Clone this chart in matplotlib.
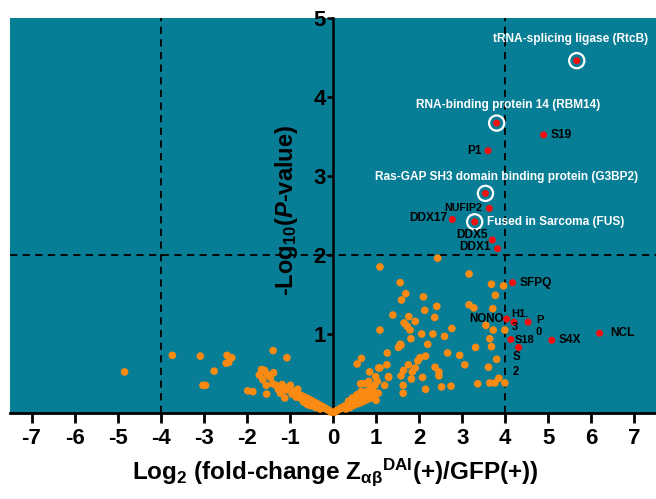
import matplotlib
matplotlib.use("Agg")
import matplotlib.pyplot as plt

plt.rcParams['font.family'] = ['Liberation Sans', 'DejaVu Sans']
plt.rcParams['mathtext.fontset'] = 'custom'
plt.rcParams['mathtext.rm'] = 'Liberation Sans:bold'
plt.rcParams['mathtext.it'] = 'Liberation Sans:bold:italic'
plt.rcParams['mathtext.bf'] = 'Liberation Sans:bold'
plt.rcParams['mathtext.default'] = 'rm'

# ---------------- data ----------------
# non-significant proteins (orange)
orange_x = [
    1.09, 2.43, 3.16, 3.96, 3.68, 3.77, 1.56, 1.69, 1.59, 2.10, 2.13, 2.41, 3.16, 3.27, 3.71,
    1.39, 1.76, 1.91, 2.36, 1.65, 1.72, 1.79, 1.09, 2.76, 3.55, 3.72, 3.99, 2.06, 2.32, 2.59,
    1.81, 3.64, 2.20, 1.56, 1.52, 3.31, 3.68, 1.26, 2.66, 2.94, 2.02, 2.15, 1.97, 3.80, 0.66,
    0.56, 1.75, 3.06, 1.09, 1.25, 0.85, 2.37, 2.46, 3.61, 1.91, 1.64, 1.84, 1.58, 2.08, 2.46,
    1.82, 1.29, 1.03, 1.20, 1.63, 2.15, 2.52, 2.74, 3.36, 3.64, 3.76, 3.85, 3.99, 1.63, 1.00,
    0.77, 0.87, 0.64, 0.83, 1.58, 0.99, 0.97, 0.72, 1.29, 1.06,
    # right branch of the V near zero
    0.04, 0.08, 0.12, 0.15, 0.18, 0.22, 0.25, 0.28, 0.32, 0.35, 0.38, 0.42, 0.45, 0.48, 0.52,
    0.55, 0.58, 0.62, 0.66, 0.70, 0.74, 0.78, 0.82, 0.86, 0.90, 0.94, 0.30, 0.40, 0.50, 0.60,
    0.68, 0.76, 0.84, 0.92, 0.45, 0.55, 0.65, 0.36, 0.95, 1.05,
    # left side
    -4.84, -3.73, -3.08, -2.76, -3.02, -2.96, -2.46, -2.35, -2.42, -2.48, -1.39, -1.07, -1.98,
    -1.86, -1.59, -1.71, -1.53, -1.38, -1.63, -1.55, -1.40, -1.32, -1.15, -0.99, -1.54, -1.09,
    -1.12, -0.82, -0.79, -1.66, -1.45, -1.27, -1.22, -1.18, -0.92, -0.88,
    # left branch of the V near zero
    -0.04, -0.08, -0.12, -0.15, -0.18, -0.22, -0.25, -0.28, -0.32, -0.35, -0.38, -0.42, -0.45,
    -0.48, -0.52, -0.55, -0.58, -0.62, -0.66, -0.70, -0.74, -0.78, -0.30, -0.40, -0.50, -0.60,
    -0.68, -0.72, -0.85, -0.95, -0.64, -0.56,
]
orange_y = [
    1.85, 1.96, 1.76, 1.61, 1.63, 1.49, 1.65, 1.51, 1.43, 1.47, 1.30, 1.35, 1.37, 1.33, 1.32,
    1.24, 1.22, 1.16, 1.21, 1.14, 1.10, 1.05, 1.05, 1.07, 1.11, 1.05, 1.05, 1.00, 1.00, 0.97,
    0.94, 0.94, 0.87, 0.87, 0.83, 0.83, 0.84, 0.76, 0.76, 0.73, 0.70, 0.72, 0.66, 0.68, 0.69,
    0.62, 0.61, 0.61, 0.57, 0.61, 0.52, 0.58, 0.52, 0.58, 0.57, 0.54, 0.52, 0.47, 0.45, 0.47,
    0.43, 0.45, 0.40, 0.35, 0.35, 0.30, 0.33, 0.34, 0.37, 0.38, 0.38, 0.44, 0.38, 0.25, 0.16,
    0.27, 0.33, 0.37, 0.40, 0.86, 0.46, 0.35, 0.37, 0.46, 0.57,
    0.01, 0.03, 0.04, 0.05, 0.06, 0.07, 0.08, 0.09, 0.10, 0.11, 0.12, 0.13, 0.14, 0.15, 0.16,
    0.17, 0.18, 0.19, 0.20, 0.21, 0.22, 0.23, 0.24, 0.25, 0.26, 0.27, 0.05, 0.07, 0.10, 0.12,
    0.14, 0.16, 0.18, 0.20, 0.19, 0.23, 0.27, 0.15, 0.19, 0.25,
    0.52, 0.73, 0.72, 0.53, 0.35, 0.35, 0.73, 0.70, 0.64, 0.63, 0.79, 0.70, 0.28,
    0.27, 0.54, 0.48, 0.49, 0.51, 0.42, 0.35, 0.37, 0.35, 0.33, 0.35, 0.24, 0.29,
    0.19, 0.30, 0.23, 0.55, 0.45, 0.30, 0.25, 0.36, 0.27, 0.22,
    0.01, 0.03, 0.04, 0.05, 0.06, 0.07, 0.08, 0.09, 0.10, 0.11, 0.12, 0.13, 0.14,
    0.15, 0.16, 0.17, 0.18, 0.19, 0.20, 0.21, 0.22, 0.23, 0.05, 0.07, 0.09, 0.11,
    0.14, 0.17, 0.20, 0.24, 0.13, 0.10,
]

# significant / labelled proteins (red)
hit_names = ['tRNA-splicing ligase (RtcB)', 'RNA-binding protein 14 (RBM14)', 'S19', 'P1',
             'Ras-GAP SH3 domain binding protein (G3BP2)', 'NUFIP2', 'DDX17',
             'Fused in Sarcoma (FUS)', 'DDX5', 'DDX1', 'SFPQ', 'NONO', 'H1.\n3', 'P\n0',
             'S18', 'S\n2', 'S4X', 'NCL']
hit_x = [5.66, 3.80, 4.89, 3.60, 3.54, 3.63, 2.77, 3.29, 3.70, 3.82, 4.17, 4.03, 4.20, 4.53,
         4.13, 4.31, 5.08, 6.19]
hit_y = [4.46, 3.67, 3.52, 3.32, 2.78, 2.59, 2.45, 2.42, 2.19, 2.08, 1.65, 1.19, 1.15, 1.15,
         0.93, 0.83, 0.92, 1.01]
circled = ['tRNA-splicing ligase (RtcB)', 'RNA-binding protein 14 (RBM14)',
           'Ras-GAP SH3 domain binding protein (G3BP2)', 'Fused in Sarcoma (FUS)']

x_ticks = [-7, -6, -5, -4, -3, -2, -1, 0, 1, 2, 3, 4, 5, 6, 7]
y_ticks = [1, 2, 3, 4, 5]
fc_cut = 4
p_cut = 2

# label placement (text anchor in data units, alignment, colour, size)
label_pos = {
    'tRNA-splicing ligase (RtcB)': (5.52, 4.73, 'center', 'white', 8.6),
    'RNA-binding protein 14 (RBM14)': (4.06, 3.90, 'center', 'white', 8.6),
    'Ras-GAP SH3 domain binding protein (G3BP2)': (4.04, 2.99, 'center', 'white', 8.6),
    'Fused in Sarcoma (FUS)': (3.58, 2.42, 'left', 'white', 8.6),
    'S19': (5.06, 3.52, 'left', 'black', 8.6),
    'P1': (3.46, 3.32, 'right', 'black', 8.6),
    'NUFIP2': (3.46, 2.59, 'right', 'black', 7.7),
    'DDX17': (2.66, 2.47, 'right', 'black', 8.6),
    'DDX5': (3.60, 2.25, 'right', 'black', 8.6),
    'DDX1': (3.67, 2.10, 'right', 'black', 8.6),
    'SFPQ': (4.34, 1.65, 'left', 'black', 8.6),
    'NONO': (3.96, 1.19, 'right', 'black', 8.3),
    'H1.\n3': (4.14, 1.17, 'left', 'black', 8.0),
    'P\n0': (4.71, 1.10, 'left', 'black', 8.0),
    'S18': (4.23, 0.93, 'left', 'black', 8.0),
    'S\n2': (4.18, 0.61, 'left', 'black', 8.3),
    'S4X': (5.24, 0.92, 'left', 'black', 8.6),
    'NCL': (6.44, 1.01, 'left', 'black', 8.6),
}

# ---------------- figure ----------------
fig = plt.figure(figsize=(6.56, 4.99), dpi=100)
ax = fig.add_axes([10 / 656, 1 - 413 / 499, 646 / 656, 395 / 499])
ax.set_facecolor('#077d96')
ax.set_xlim(-7.5, 7.5)
ax.set_ylim(0, 5)

for side in ['top', 'right']:
    ax.spines[side].set_visible(False)
ax.spines['left'].set_position(('data', 0))
ax.spines['left'].set_linewidth(1.8)
ax.spines['bottom'].set_linewidth(2.0)
ax.spines['left'].set_zorder(1)

ax.axhline(p_cut, color='black', lw=1.3, ls=(0, (4, 3)), zorder=1)
ax.axvline(-fc_cut, color='black', lw=1.3, ls=(0, (4, 3)), zorder=1)
ax.axvline(fc_cut, color='black', lw=1.3, ls=(0, (4, 3)), zorder=1)

ax.scatter(orange_x, orange_y, s=30, color='#fb8a12', edgecolors='none', zorder=3,
           clip_on=False)
ax.scatter(hit_x, hit_y, s=26, color='#f01010', edgecolors='none', zorder=4)
cx = [x for n, x in zip(hit_names, hit_x) if n in circled]
cy = [y for n, y in zip(hit_names, hit_y) if n in circled]
ax.scatter(cx, cy, s=120, facecolors='none', edgecolors='white', linewidths=1.6, zorder=4)

for n in hit_names:
    tx, ty, ha, col, fs = label_pos[n]
    ax.text(tx, ty, n, ha=ha, va='center', color=col, fontsize=fs, fontweight='bold',
            linespacing=1.3, zorder=5)

ax.set_xticks(x_ticks)
ax.set_xticklabels([str(t) for t in x_ticks], fontsize=16, fontweight='bold')
ax.set_yticks(y_ticks)
ax.set_yticklabels([str(t) for t in y_ticks], fontsize=16, fontweight='bold')
ax.tick_params(axis='x', direction='out', length=7, width=2, pad=4)
ax.tick_params(axis='y', direction='out', length=4, width=1.8, pad=1)

ax.text(-1.09, 2.57, r'-Log$_{10}$($\mathit{P}$-value)', rotation=90, ha='center',
        va='center', fontsize=17, fontweight='bold', zorder=5)
fig.text(335 / 656, 1 - 472 / 499,
         r'Log$_2$ (fold-change Z$_{\alpha\beta}$$^{\mathrm{DAI}}$(+)/GFP(+))',
         ha='center', va='center', fontsize=17.5, fontweight='bold')

fig.savefig('out.png', dpi=100)
